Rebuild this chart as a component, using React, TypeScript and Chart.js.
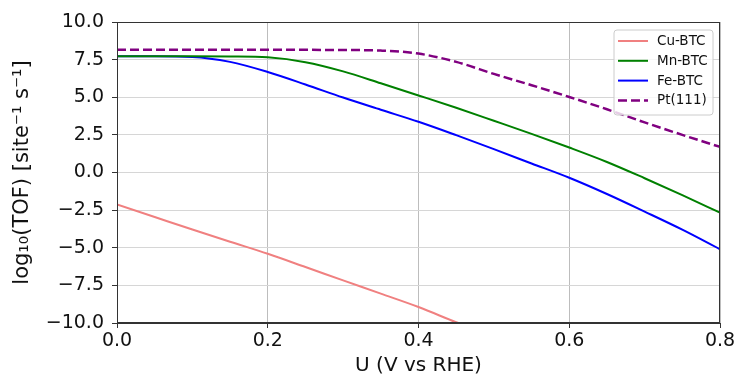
import React, { useEffect, useRef } from "react";
import { Chart, registerables } from "chart.js";

Chart.register(...registerables);

const xValues = [0, 0.05, 0.1, 0.15, 0.2, 0.25, 0.3, 0.35, 0.4, 0.45, 0.5, 0.55, 0.6, 0.65, 0.7, 0.75, 0.8];
const cuX = [0, 0.05, 0.1, 0.15, 0.2, 0.25, 0.3, 0.35, 0.4, 0.45, 0.5];
const cuBTC = [-2.13, -2.96, -3.79, -4.6, -5.4, -6.28, -7.17, -8.05, -8.94, -9.95, -10.9];
const mnBTC = [7.72, 7.72, 7.72, 7.71, 7.65, 7.33, 6.72, 5.93, 5.12, 4.3, 3.44, 2.57, 1.66, 0.7, -0.38, -1.5, -2.67];
const feBTC = [7.72, 7.72, 7.68, 7.35, 6.68, 5.85, 4.98, 4.17, 3.37, 2.48, 1.55, 0.6, -0.35, -1.43, -2.6, -3.8, -5.1];
const pt111 = [8.16, 8.16, 8.16, 8.16, 8.16, 8.15, 8.14, 8.1, 7.9, 7.35, 6.55, 5.8, 5.02, 4.2, 3.33, 2.5, 1.7];

const seriesLabels = ["Cu-BTC", "Mn-BTC", "Fe-BTC", "Pt(111)"];
const seriesColors = ["#F08080", "#008000", "#0000FF", "#800080"];

const FONT = "'DejaVu Sans', sans-serif";

const toPoints = (xs: number[], ys: number[]) => xs.map((x, i) => ({ x, y: ys[i] }));

const framePlugin = {
  id: "frame",
  afterDatasetsDraw(chart: any) {
    const { ctx, chartArea: ca } = chart;
    ctx.save();
    ctx.strokeStyle = "#333";
    ctx.lineWidth = 1;
    ctx.strokeRect(Math.round(ca.left) + 0.5, Math.round(ca.top) + 0.5, Math.round(ca.right - ca.left) - 1, Math.round(ca.bottom - ca.top) - 1);
    ctx.restore();
  },
};

const legendPlugin = {
  id: "boxLegend",
  afterDraw(chart: any) {
    const { ctx, chartArea: ca } = chart;
    const w = 99;
    const h = 85;
    const x0 = ca.right - 7 - w;
    const y0 = ca.top + 8;
    ctx.save();
    const r = 3;
    ctx.beginPath();
    ctx.moveTo(x0 + r, y0);
    ctx.lineTo(x0 + w - r, y0);
    ctx.quadraticCurveTo(x0 + w, y0, x0 + w, y0 + r);
    ctx.lineTo(x0 + w, y0 + h - r);
    ctx.quadraticCurveTo(x0 + w, y0 + h, x0 + w - r, y0 + h);
    ctx.lineTo(x0 + r, y0 + h);
    ctx.quadraticCurveTo(x0, y0 + h, x0, y0 + h - r);
    ctx.lineTo(x0, y0 + r);
    ctx.quadraticCurveTo(x0, y0, x0 + r, y0);
    ctx.closePath();
    ctx.fillStyle = "rgba(255,255,255,0.8)";
    ctx.fill();
    ctx.strokeStyle = "#cccccc";
    ctx.lineWidth = 1;
    ctx.stroke();
    chart.data.datasets.forEach((ds: any, i: number) => {
      const cy = y0 + 11 + i * 19.8;
      ctx.beginPath();
      ctx.strokeStyle = ds.borderColor;
      ctx.lineWidth = ds.borderWidth;
      ctx.setLineDash(ds.borderDash || []);
      ctx.moveTo(x0 + 4, cy);
      ctx.lineTo(x0 + 34, cy);
      ctx.stroke();
      ctx.setLineDash([]);
      ctx.fillStyle = "#111";
      ctx.font = `13.5px ${FONT}`;
      ctx.textBaseline = "middle";
      ctx.textAlign = "left";
      ctx.fillText(ds.label, x0 + 43, cy + 0.5);
    });
    ctx.restore();
  },
};

export default function App() {
  const ref = useRef<HTMLCanvasElement | null>(null);

  useEffect(() => {
    if (!ref.current) return;
    const chart = new Chart(ref.current, {
      type: "line",
      data: {
        datasets: [
          { label: seriesLabels[0], data: toPoints(cuX, cuBTC), borderColor: seriesColors[0], borderWidth: 2, pointRadius: 0, cubicInterpolationMode: "monotone", fill: false },
          { label: seriesLabels[1], data: toPoints(xValues, mnBTC), borderColor: seriesColors[1], borderWidth: 2, pointRadius: 0, cubicInterpolationMode: "monotone", fill: false },
          { label: seriesLabels[2], data: toPoints(xValues, feBTC), borderColor: seriesColors[2], borderWidth: 2, pointRadius: 0, cubicInterpolationMode: "monotone", fill: false },
          { label: seriesLabels[3], data: toPoints(xValues, pt111), borderColor: seriesColors[3], borderWidth: 2.5, borderDash: [9, 4], pointRadius: 0, cubicInterpolationMode: "monotone", fill: false },
        ],
      } as any,
      options: {
        responsive: false,
        animation: false,
        layout: { padding: { top: 22, right: 19, left: 0, bottom: 0 } },
        plugins: { legend: { display: false }, tooltip: { enabled: false } },
        scales: {
          x: {
            type: "linear",
            min: 0,
            max: 0.8,
            afterFit: (s: any) => { s.height = 53; },
            ticks: {
              stepSize: 0.2,
              padding: 2,
              color: "#111",
              font: { family: FONT, size: 19 },
              maxRotation: 0,
              callback: (v: any) => Number(v).toFixed(1),
            },
            grid: { color: "#bdbdbd", lineWidth: 1, tickLength: 5, tickColor: "#333", drawTicks: true },
            border: { display: true, color: "#333" },
            title: {
              display: true,
              text: "U (V vs RHE)",
              color: "#111",
              font: { family: FONT, size: 20, lineHeight: 1 },
              padding: { top: 0, bottom: 0 },
            },
          },
          y: {
            type: "linear",
            min: -10,
            max: 10,
            afterFit: (s: any) => { s.width = 117; },
            ticks: {
              stepSize: 2.5,
              padding: 8,
              color: "#111",
              font: { family: FONT, size: 19 },
              callback: (v: any) => {
                const n = Number(v);
                return (n < 0 ? "\u2212" : "") + Math.abs(n).toFixed(1);
              },
            },
            grid: { color: "#d6d6d6", lineWidth: 1, tickLength: 5, tickColor: "#333", drawTicks: true },
            border: { display: true, color: "#333" },
            title: {
              display: true,
              text: "log\u2081\u2080(TOF) [site\u207B\u00B9 s\u207B\u00B9]",
              color: "#111",
              font: { family: FONT, size: 21, lineHeight: 1 },
              padding: { top: 12, bottom: 0 },
            },
          },
        },
      } as any,
      plugins: [framePlugin, legendPlugin],
    });
    return () => chart.destroy();
  }, []);

  return (
    <div style={{ position: "fixed", left: 0, top: 0, width: 739, height: 376, background: "#fff" }}>
      <canvas ref={ref} width={739} height={376} style={{ display: "block" }} />
    </div>
  );
}
